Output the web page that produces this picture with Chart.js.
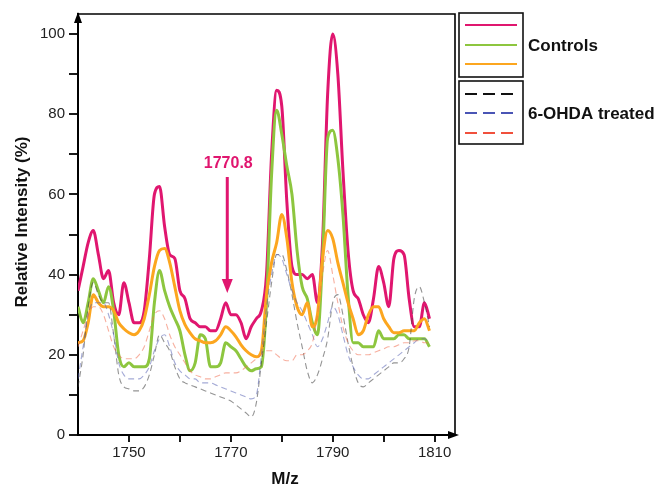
<!DOCTYPE html>
<html>
<head>
<meta charset="utf-8">
<script src="https://cdn.jsdelivr.net/npm/chart.js@4.4.1/dist/chart.umd.min.js"></script>
<style>
html,body{margin:0;padding:0;background:#ffffff;}
#wrap{position:relative;width:656px;height:485px;}
</style>
</head>
<body>
<div id="wrap"><canvas id="c" width="656" height="485"></canvas></div>
<script>
// ---- data ----
const mz = [1740,1741,1742,1743,1744,1745,1746,1747,1748,1749,
            1750,1751,1752,1753,1754,1755,1756,1757,1758,1759,
            1760,1761,1762,1763,1764,1765,1766,1767,1768,1769,
            1770,1771,1772,1773,1774,1775,1776,1777,1778,1779,
            1780,1781,1782,1783,1784,1785,1786,1787,1788,1789,
            1790,1791,1792,1793,1794,1795,1796,1797,1798,1799,
            1800,1801,1802,1803,1804,1805,1806,1807,1808,1809];

const controlPink = [36,42,48,51,45,39,41,33,30,38,
                     33,28,28,31,44,60,62,52,45,44,
                     36,34,29,28,27,27,26,26,29,33,
                     30,30,28,24,27,29,31,40,70,86,
                     82,58,42,40,40,39,40,33,48,85,
                     100,90,66,46,36,34,30,28,34,42,
                     38,32,44,46,45,34,27,27,33,29];

const controlGreen = [32,28,33,39,36,33,37,31,20,17,
                      18,17,17,17,19,33,41,36,32,29,
                      26,20,16,18,25,24,17,17,18,23,
                      22,21,19,17,16,16.5,17,33,65,81,
                      75,67,60,46,37,34,28,25,44,74,
                      76,69,55,35,23,23,22,22,22,26,
                      24,24,24,25,25,24,24,24,24,22];

const controlOrange = [23,23.5,28,35,33,32,32,31,28,26.5,
                       25.5,25,26,29,35,42,46,46.5,43,37,
                       31,27.5,25.5,24,23.5,23,23,23.5,25,27,
                       26,24.5,22.5,21,20,19.5,21,35,43,48,
                       55,49,38,32,30,33,27,30,44,51,
                       49,43,38,33,29,25,26,30,32,32,
                       29,27,25.5,25.5,26,26,26,28,29,26];

const treatedBlack = [12,20,32,38,35,33,33,25,15,12,
                      11.5,11,11,12,15,20,25,23,21,17,
                      14,13,12.5,12,11.5,11,10.5,10,9.5,9,
                      8.5,7.5,6.5,5.5,4.5,8,18,28,38,45,
                      45,41,35,28,22,16,13,15,19,24,
                      33,35,30,23,17,13,12,13,14,15,
                      16,17,18,18,19,22,34,37,33,27];

const treatedBlue = [14,22,30,33,33,33,30,25,18,15,
                     14,14,14,15,17,21,24,25,22,18,
                     16,15,14,14,13,13,13,12.5,12,11.5,
                     11,10.5,10,9.5,9,10,20,32,40,45,
                     44,40,36,33,31,28,25,22,24,28,
                     32,30,25,20,17,15,14,14,15,16,
                     17,18,19,20,21,22,23,24,24,23];

const treatedRed = [22,26,30,32,32,30,26,22,20,19,
                    19,19,20,22,26,30,31,29,25,22,
                    20,18,16,15,14.5,14,14,14.5,15,15.5,
                    15.5,15.5,16,17,18,19,20,21,21,20,
                    19,18.5,18.5,20,20,21,23,30,40,46,
                    40,33,27,23,21,20,20,20,20.5,21,
                    21.5,22,22,22.5,23,23,23.5,23.5,23,23];

const yTickLabels = [0,20,40,60,80,100];
const xTickLabels = [1750,1770,1790,1810];
const groupLabels = ['Controls','6-OHDA treated'];
const annotationLabel = '1770.8';
const annotationMz = 1769.3;

const pts = arr => mz.map((m,i)=>({x:m,y:arr[i]}));

const PINK = '#e0166f', GREEN = '#8dc63f', ORANGE = '#fca61f';

function solid(data,color){
  return {data:pts(data),borderColor:color,borderWidth:3,pointRadius:0,
          cubicInterpolationMode:'monotone',fill:false};
}
function dashed(data,color){
  return {data:pts(data),borderColor:color,borderWidth:1.1,pointRadius:0,
          borderDash:[6,4],cubicInterpolationMode:'monotone',fill:false};
}

const FONT = '"Liberation Sans", Arial, Helvetica, sans-serif';

const decor = {
  id:'decor',
  afterDraw(chart){
    const ctx = chart.ctx;
    const a = chart.chartArea;
    const xs = chart.scales.x, ys = chart.scales.y;
    ctx.save();
    // tick marks from the scales' own ticks
    ctx.strokeStyle = '#000'; ctx.lineWidth = 1.8;
    ys.ticks.forEach(t=>{
      const y = Math.round(ys.getPixelForValue(t.value));
      ctx.beginPath(); ctx.moveTo(a.left-9, y); ctx.lineTo(a.left, y); ctx.stroke();
    });
    xs.ticks.forEach(t=>{
      const x = Math.round(xs.getPixelForValue(t.value));
      ctx.beginPath(); ctx.moveTo(x, a.bottom); ctx.lineTo(x, a.bottom+7); ctx.stroke();
    });
    // frame top and right
    ctx.lineWidth = 1.6;
    ctx.beginPath();
    ctx.moveTo(a.left, a.top); ctx.lineTo(a.right, a.top); ctx.lineTo(a.right, a.bottom);
    ctx.stroke();
    // arrowheads
    ctx.fillStyle = '#000';
    ctx.beginPath();
    ctx.moveTo(a.left, a.top-2); ctx.lineTo(a.left-4, a.top+9); ctx.lineTo(a.left+4, a.top+9); ctx.closePath(); ctx.fill();
    ctx.beginPath();
    ctx.moveTo(a.right+4, a.bottom); ctx.lineTo(a.right-7, a.bottom-4); ctx.lineTo(a.right-7, a.bottom+4); ctx.closePath(); ctx.fill();

    // axis titles
    ctx.fillStyle = '#111';
    ctx.font = 'bold 17px ' + FONT;
    ctx.textAlign = 'center'; ctx.textBaseline = 'middle';
    ctx.save();
    ctx.translate(22, 222); ctx.rotate(-Math.PI/2);
    ctx.fillText('Relative Intensity (%)', 0, 0);
    ctx.restore();
    ctx.fillText('M/z', 285, 479);

    // annotation
    const ax = xs.getPixelForValue(annotationMz);
    ctx.fillStyle = PINK; ctx.strokeStyle = PINK;
    ctx.font = 'bold 16px ' + FONT;
    ctx.fillText(annotationLabel, ax+1, 164);
    ctx.lineWidth = 3;
    ctx.beginPath(); ctx.moveTo(ax, 177); ctx.lineTo(ax, 282); ctx.stroke();
    ctx.beginPath(); ctx.moveTo(ax, 293); ctx.lineTo(ax-5.5, 279); ctx.lineTo(ax+5.5, 279); ctx.closePath(); ctx.fill();

    // legend boxes
    ctx.strokeStyle = '#111'; ctx.lineWidth = 1.6;
    ctx.strokeRect(459, 13, 64, 64);
    ctx.strokeRect(459, 81, 64, 63);
    const lx0 = 465, lx1 = 517;
    const solidRows = [[25,PINK],[45,GREEN],[64,ORANGE]];
    solidRows.forEach(([y,c])=>{
      ctx.strokeStyle = c; ctx.lineWidth = 2.2; ctx.setLineDash([]);
      ctx.beginPath(); ctx.moveTo(lx0,y); ctx.lineTo(lx1,y); ctx.stroke();
    });
    const dashRows = [[94,'#111'],[113,'#4a55b5'],[133,'#f0503c']];
    dashRows.forEach(([y,c])=>{
      ctx.strokeStyle = c; ctx.lineWidth = 2; ctx.setLineDash([12,6]);
      ctx.beginPath(); ctx.moveTo(lx0,y); ctx.lineTo(lx1+1,y); ctx.stroke();
    });
    ctx.setLineDash([]);
    ctx.fillStyle = '#111';
    ctx.font = 'bold 17px ' + FONT;
    ctx.textAlign = 'left';
    ctx.fillText(groupLabels[0], 528, 46);
    ctx.fillText(groupLabels[1], 528, 114);
    ctx.restore();
  }
};

new Chart(document.getElementById('c'), {
  type:'line',
  data:{datasets:[
    dashed(treatedRed,'rgba(240,110,80,0.55)'),
    dashed(treatedBlue,'rgba(90,100,180,0.55)'),
    dashed(treatedBlack,'rgba(60,60,60,0.55)'),
    solid(controlOrange,ORANGE),
    solid(controlGreen,GREEN),
    solid(controlPink,PINK)
  ]},
  options:{
    responsive:false, animation:false, devicePixelRatio:1,
    layout:{padding:{left:0,top:13,right:201,bottom:0}},
    plugins:{legend:{display:false},tooltip:{enabled:false}},
    scales:{
      x:{type:'linear',min:1740,max:1814,
         afterFit(s){s.height=50;},
         afterBuildTicks(s){s.ticks = s.ticks.filter(t=>t.value>1745 && t.value<1812);},
         ticks:{stepSize:10,includeBounds:false,autoSkip:false,maxRotation:0,padding:3,color:'#222',
                font:{size:15,family:FONT},
                callback:v=> xTickLabels.includes(v) ? String(v) : ''},
         grid:{display:true,drawOnChartArea:false,drawTicks:true,tickLength:6,
               color:'rgba(0,0,0,0)',tickColor:'rgba(0,0,0,0)'},
         border:{display:true,color:'#000',width:2}},
      y:{type:'linear',min:0,max:105,
         afterFit(s){s.width=78;},
         afterBuildTicks(s){s.ticks = s.ticks.filter(t=>t.value<=100);},
         ticks:{stepSize:10,includeBounds:false,autoSkip:false,padding:5,color:'#222',
                font:{size:15,family:FONT},
                callback:v=> yTickLabels.includes(v) ? String(v) : ''},
         grid:{display:true,drawOnChartArea:false,drawTicks:true,tickLength:8,
               color:'rgba(0,0,0,0)',tickColor:'rgba(0,0,0,0)'},
         border:{display:true,color:'#000',width:2}}
    }
  },
  plugins:[decor]
});
</script>
</body>
</html>
